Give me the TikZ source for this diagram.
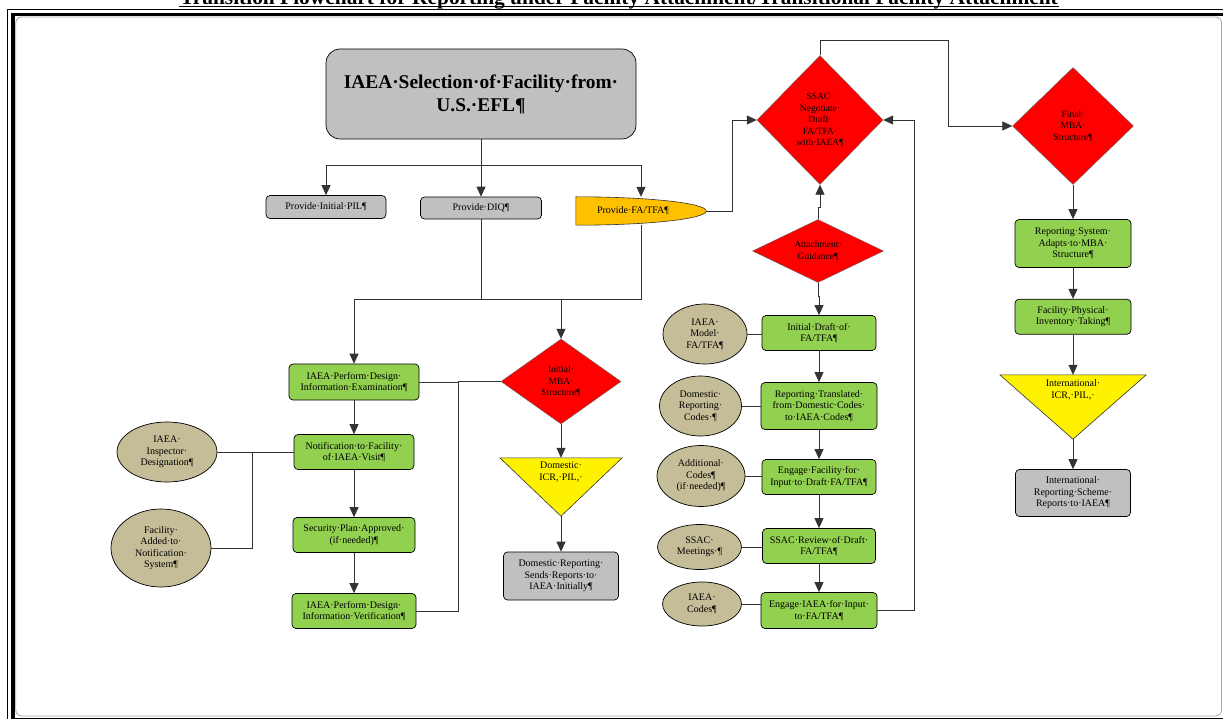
\documentclass[tikz,border=0pt]{standalone}
\usepackage{fontspec}
\setmainfont{Liberation Serif}
\usetikzlibrary{shapes.geometric,arrows.meta}

\definecolor{boxgray}{HTML}{C0C0C0}
\definecolor{boxgreen}{HTML}{92D050}
\definecolor{boxorange}{HTML}{FFC000}
\definecolor{boxtan}{HTML}{C4BD97}

\begin{document}
\begin{tikzpicture}[x=1pt, y=-1pt,
  every node/.style = {align=center, inner sep=1pt,
    font=\fontsize{10}{11.5}\selectfont},
  graybox/.style = {shape=rectangle, draw, line width=0.7pt,
    rounded corners=4pt, fill=boxgray},
  greenbox/.style = {shape=rectangle, draw, line width=0.7pt,
    rounded corners=4pt, fill=boxgreen},
  oval/.style = {shape=ellipse, draw, line width=0.7pt, fill=boxtan, inner sep=0pt},
  decision/.style = {shape=diamond, draw=black!60, fill=red, inner sep=0pt,
    font=\fontsize{9.5}{11.5}\selectfont},
  blank/.style = {inner sep=0pt},
  link/.style = {draw=black!80, line width=0.8pt},
  flow/.style = {link, -{Triangle[length=10pt,width=9pt]}}]

  \useasboundingbox (0,0) rectangle (1223,719);

  \node[anchor=base, font=\bfseries\fontsize{21.4}{24}\selectfont] (title) at (619,4.5)
    {Transition Flowchart for Reporting under Facility Attachment/Transitional Facility Attachment};
  \draw[line width=1.3pt] ([yshift=-2pt]title.base west) -- ([yshift=-2pt]title.base east);
  \draw[line width=1pt] (7.5,9.8) rectangle (1250,730);
  \draw[line width=3.6pt] (12.9,14.5) rectangle (1245,719.5);
  \draw[black!35, line width=0.8pt, rounded corners=6pt] (15.8,17) rectangle (1221.5,716);

  \node[graybox, rounded corners=14pt, minimum width=310, minimum height=90,
    font=\bfseries\fontsize{19.4}{23}\selectfont] (sel) at (481,94)
    {IAEA·Selection·of·Facility·from·\\U.S.·EFL¶};
  \node[graybox, minimum width=120, minimum height=23] (pil) at (326,207) {Provide·Initial·PIL¶};
  \node[graybox, minimum width=121, minimum height=22] (diq) at (481,208) {Provide·DIQ¶};
  \node[blank, minimum width=130, minimum height=28] (fatfa) at (641,211) {};
  \filldraw[fill=boxorange, draw=black!80, line width=0.6pt] (fatfa.north west)
    .. controls ([xshift=72pt]fatfa.north west) and ([yshift=8pt]fatfa.east) .. (fatfa.east)
    .. controls ([yshift=-8pt]fatfa.east) and ([xshift=72pt]fatfa.south west) .. (fatfa.south west) -- cycle;
  \node (fatext) at (633,211) {Provide·FA/TFA¶};

  \coordinate (split) at (481,165);
  \draw[link] (sel.south) -- (split);
  \draw[flow] (split) -- (diq.north);
  \draw[flow] (split) -| (pil.north);
  \draw[flow] (split) -| (fatfa.north);

  \node[decision, minimum width=126, minimum height=129] (ssac) at (820,120)
    {SSAC·\\Negotiate·\\Draft·\\FA/TFA·\\with·IAEA¶};
  \node[decision, minimum width=121, minimum height=117] (final) at (1073,126)
    {Final·\\MBA·\\Structure¶};
  \node[decision, shape aspect=2, minimum width=131, minimum height=63] (guide) at (818,251)
    {Attachment·\\Guidance¶};
  \draw[flow] (fatfa.east) -- ++(26,0) |- (ssac.west);
  \draw[flow] (ssac.north) |- (948,40) |- (final.west);
  \draw[flow] (guide.north) -- ++(0,-12) -| (ssac.south);

  \node[greenbox, minimum width=114, minimum height=35] (draft) at (819,333)
    {Initial·Draft·of·\\FA/TFA¶};
  \node[greenbox, minimum width=116, minimum height=47] (transl) at (819,406)
    {Reporting·Translated·\\from·Domestic·Codes·\\to·IAEA·Codes¶};
  \node[greenbox, minimum width=114, minimum height=35] (engfac) at (819,477)
    {Engage·Facility·for·\\Input·to·Draft·FA/TFA¶};
  \node[greenbox, minimum width=113, minimum height=35] (review) at (819,546)
    {SSAC·Review·of·Draft·\\FA/TFA¶};
  \node[greenbox, minimum width=116, minimum height=36] (engiaea) at (819,610.5)
    {Engage·IAEA·for·Input·\\to·FA/TFA¶};
  \draw[flow] (guide.south) -- ++(0,14) -| (draft.north);
  \foreach \a/\b in {draft/transl, transl/engfac, engfac/review, review/engiaea}
    \draw[flow] (\a) -- (\b);
  \draw[flow] (engiaea.east) -| (914,120) -- (ssac.east);

  \node[oval, minimum width=84, minimum height=60] (model) at (705,334) {IAEA·\\Model·\\FA/TFA¶};
  \node[oval, minimum width=82, minimum height=60] (domcodes) at (700.5,406) {Domestic·\\Reporting·\\Codes·¶};
  \node[oval, minimum width=88, minimum height=61] (addcodes) at (701,476) {Additional·\\Codes¶\\(if·needed)¶};
  \node[oval, minimum width=84, minimum height=45] (meet) at (699.5,547) {SSAC·\\Meetings·¶};
  \node[oval, minimum width=79, minimum height=44] (iaeacodes) at (702,604) {IAEA·\\Codes¶};
  \foreach \a/\b in {model/draft, domcodes/transl, addcodes/engfac, meet/review, iaeacodes/engiaea}
    \draw[link] (\a.east) -- (\a.east -| \b.west);

  \node[greenbox, minimum width=130, minimum height=36] (exam) at (354,382)
    {IAEA·Perform·Design·\\Information·Examination¶};
  \node[greenbox, minimum width=120, minimum height=35] (notify) at (354,452)
    {Notification·to·Facility·\\of·IAEA·Visit¶};
  \node[greenbox, minimum width=122, minimum height=35] (secplan) at (354,535)
    {Security·Plan·Approved·\\(if·needed)¶};
  \node[greenbox, minimum width=124, minimum height=35] (verify) at (354,611)
    {IAEA·Perform·Design·\\Information·Verification¶};
  \node[decision, minimum width=120, minimum height=85] (mba) at (561,381.5)
    {Initial·\\MBA·\\Structure¶};

  \coordinate (join) at (481,299);
  \draw[link] (diq.south) -- (join) -| (fatfa.south);
  \draw[flow] (join) -| (exam.north);
  \draw[flow] (join -| mba.north) -- (mba.north);
  \foreach \a/\b in {exam/notify, notify/secplan, secplan/verify}
    \draw[flow] (\a) -- (\b);

  \node[oval, minimum width=100, minimum height=60] (inspect) at (167,452)
    {IAEA·\\Inspector·\\Designation¶};
  \node[oval, minimum width=100, minimum height=78] (added) at (161,548)
    {Facility·\\Added·to·\\Notification·\\System¶};
  \coordinate (tee) at (252,452);
  \draw[link] (inspect) -- (notify);
  \draw[link] (added.east) -| (tee);

  \coordinate (tee2) at (458,381.5);
  \draw[link] (exam.east) -- (exam.east -| tee2);
  \draw[link] (verify.east) -| (tee2) -- (mba.west);

  \node[blank, minimum width=122, minimum height=58] (dicr) at (561,487) {};
  \filldraw[fill=yellow, draw=black!80, line width=0.6pt]
    (dicr.north west) -- (dicr.north east) -- (dicr.south) -- cycle;
  \node[anchor=north] (dicrtext) at ([yshift=-3pt]dicr.north) {Domestic·\\ICR,·PIL,·};
  \node[graybox, minimum width=115, minimum height=48] (domrep) at (561,576)
    {Domestic·Reporting·\\Sends·Reports·to·\\IAEA·Initially¶};
  \draw[flow] (mba.south) -- (dicr.north);
  \draw[flow] (dicr.south) -- (domrep.north);

  \node[greenbox, minimum width=116, minimum height=48] (adapt) at (1073,243.5)
    {Reporting·System·\\Adapts·to·MBA·\\Structure¶};
  \node[greenbox, minimum width=116, minimum height=35] (invent) at (1073,316.7)
    {Facility·Physical·\\Inventory·Taking¶};
  \node[blank, minimum width=146, minimum height=64] (iicr) at (1073,407) {};
  \filldraw[fill=yellow, draw=black!80, line width=0.6pt]
    (iicr.north west) -- (iicr.north east) -- (iicr.south) -- cycle;
  \node[anchor=north] (iicrtext) at ([yshift=-4pt]iicr.north) {International·\\ICR,·PIL,·};
  \node[graybox, minimum width=115, minimum height=47] (intrep) at (1073,493)
    {International·\\Reporting·Scheme·\\Reports·to·IAEA¶};
  \draw[flow] (final.south) -- (adapt.north);
  \draw[flow] (adapt) -- (invent);
  \draw[flow] (invent.south) -- (iicr.north);
  \draw[flow] (iicr.south) -- (intrep.north);
\end{tikzpicture}
\end{document}
